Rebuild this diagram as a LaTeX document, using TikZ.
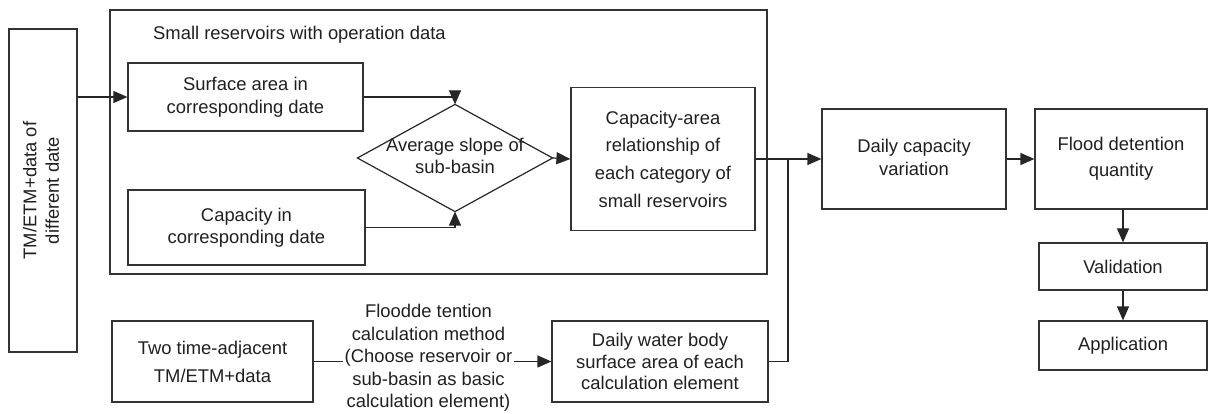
\documentclass[tikz,border=0pt]{standalone}
\usepackage{fontspec}
\setmainfont{Liberation Sans}
\usetikzlibrary{arrows.meta,calc}
\begin{document}
\begin{tikzpicture}[x=1pt,y=-1pt,
  box/.style={draw=black!80,line width=1.2pt,inner sep=0pt,align=center,text=black!88,
    font=\fontsize{18.4}{22.5}\selectfont},
  ln/.style={draw=black!85,line width=1.2pt},
  arr/.style={ln,-{Triangle[length=14pt,width=12pt]}},
  lab/.style={inner sep=1.5pt,align=center,text=black!88,font=\fontsize{18.4}{22.5}\selectfont}]
\useasboundingbox (0,0) rectangle (1208,414);
% group box
\node[box,minimum width=657,minimum height=264] (grp) at (438.5,142) {};
\node[lab,anchor=base west,inner sep=0pt] (title) at (153,40) {Small reservoirs with operation data};
% left box
\node[box,minimum width=68,minimum height=323] (left) at (43,190.5)
  {\rotatebox{90}{\begin{tabular}{@{}c@{}}TM/ETM+data of\\different date\end{tabular}}};
\node[box,minimum width=235,minimum height=68] (surf) at (245.5,97) {Surface area in\\corresponding date};
\node[box,minimum width=237,minimum height=75] (capy) at (246.5,227.5) {Capacity in\\corresponding date};
\node[box,draw=none,minimum width=194,minimum height=106] (dia) at (455,158)
  {\raisebox{-8pt}{\begin{tabular}{@{}c@{}}Average slope of\\sub-basin\end{tabular}}};
\draw[ln] (dia.west) -- (dia.north) -- (dia.east) -- (dia.south) -- cycle;
\node[box,minimum width=184,minimum height=143,font=\fontsize{18.4}{27.7}\selectfont] (carel) at (663,159)
  {Capacity-area\\relationship of\\each category of\\small reservoirs};
\node[box,minimum width=201,minimum height=81,font=\fontsize{18.4}{28}\selectfont] (two) at (212.5,361.5)
  {Two time-adjacent\\TM/ETM+data};
\node[lab] (meth) at (428.5,358) {Floodde tention\\calculation method\\(Choose reservoir or\\sub-basin as basic\\calculation element)};
\node[box,minimum width=216,minimum height=81,font=\fontsize{18.4}{21.5}\selectfont] (water) at (660,361.5)
  {Daily water body\\surface area of each\\calculation element};
\node[box,minimum width=184,minimum height=100,font=\fontsize{18.4}{23}\selectfont] (dcap) at (914,159)
  {\raisebox{-4pt}{\begin{tabular}{@{}c@{}}Daily capacity\\variation\end{tabular}}};
\node[box,minimum width=172,minimum height=100,font=\fontsize{18.4}{26}\selectfont] (flood) at (1121,159)
  {Flood detention\\quantity};
\node[box,minimum width=168,minimum height=47] (valid) at (1123,266.5) {Validation};
\node[box,minimum width=168,minimum height=49] (app) at (1123,345.5) {Application};
\coordinate (j) at (788,159);
% connectors
\draw[arr] (left.east |- surf.west) -- (surf.west);
\draw[arr] (surf.east) -| (dia.north);
\draw[arr] (capy.east) -| (dia.south);
\draw[arr] (dia.east) -- (carel.west);
\draw[arr] (carel.east) -- (dcap.west);
\draw[ln] (water.east) -| (j);
\draw[ln] (two.east) -- (two.east -| meth.west);
\draw[arr] (water.west -| meth.east) -- (water.west);
\draw[arr] (dcap.east) -- (flood.west);
\draw[arr] (valid.north |- flood.south) -- (valid.north);
\draw[arr] (valid.south) -- (app.north);
\end{tikzpicture}
\end{document}
